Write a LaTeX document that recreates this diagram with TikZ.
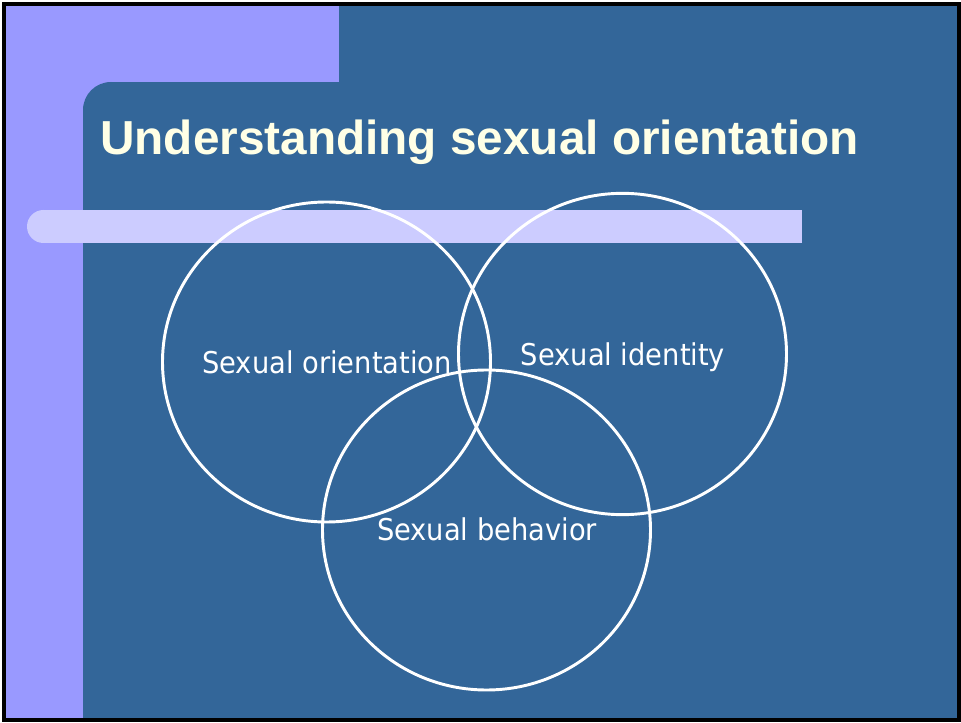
\documentclass[tikz,border=0pt]{standalone}
\usepackage{fontspec}
\setmainfont{Liberation Sans}
\newfontfamily\labfont[FakeStretch=0.91]{DejaVu Sans}
\definecolor{bgblue}{HTML}{336699}
\definecolor{lav}{HTML}{9999FF}
\definecolor{lavlight}{HTML}{CCCCFF}
\definecolor{titlecol}{HTML}{FFFFE6}
\tikzset{
  venn/.style={draw=white, line width=2.2pt},
  lab/.style={text=white, anchor=base, inner sep=0pt, font=\labfont\fontsize{22.5}{27}\selectfont},
}
\begin{document}
\begin{tikzpicture}[x=0.75pt,y=-0.75pt]
\useasboundingbox (0,0) rectangle (961,723);
\fill[white] (0,0) rectangle (961,723);
\fill[bgblue] (4,4) rectangle (959,720);
\fill[lav] (4,4) rectangle (339,82);
\fill[lav] (4,4) rectangle (83,720);
\fill[lav] (83,82) rectangle (111,110);
\fill[bgblue] (111,110) circle[radius=21pt];
\fill[bgblue] (111,82) rectangle (339,110);
\fill[lavlight] (43.5,210) rectangle (802,243);
\fill[lavlight] (43.5,226.5) circle[radius=12.375pt];
\draw[black, line width=2.4pt] (4,4) rectangle (959,720);
\node[text=titlecol, anchor=base west, inner sep=0pt, font=\bfseries\fontsize{35.8}{42}\selectfont] (title) at (100,155) {Understanding sexual orientation};
\draw[venn] (326.5,362) ellipse[x radius=123pt, y radius=120pt];
\draw[venn] (622.5,354) ellipse[x radius=123pt, y radius=120.5pt];
\draw[venn] (486.5,530) ellipse[x radius=123pt, y radius=120pt];
\node[lab] (orient) at (327,374) {Sexual orientation};
\node[lab] (ident) at (623,366) {Sexual identity};
\node[lab] (behav) at (487,541) {Sexual behavior};
\end{tikzpicture}
\end{document}
